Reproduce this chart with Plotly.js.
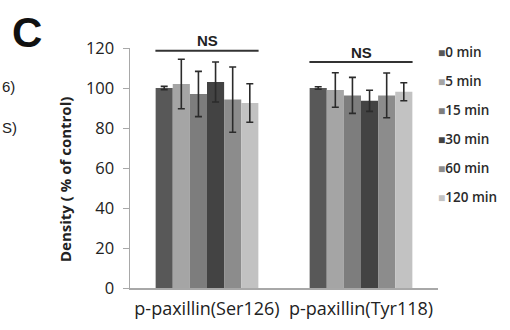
<!DOCTYPE html>
<html>
<head>
<meta charset="utf-8">
<script src="https://cdn.plot.ly/plotly-3.0.1.min.js"></script>
<style>html,body{margin:0;padding:0;background:#fff;}#chart{width:510px;height:330px;}</style>
</head>
<body>
<div id="chart"></div>
<script>
var categories = ["p-paxillin(Ser126)", "p-paxillin(Tyr118)"];
var seriesNames = ["0 min", "5 min", "15 min", "30 min", "60 min", "120 min"];
var seriesColors = ["#585858", "#a5a5a5", "#7d7d7d", "#434343", "#8c8c8c", "#c2c2c2"];
var values = [
  [100, 100],
  [102, 99],
  [97, 96.3],
  [103, 93.6],
  [94.2, 96.3],
  [92.5, 98.1]
];
var errors = [
  [0.8, 0.6],
  [12.4, 8.6],
  [11.3, 9],
  [10, 5.3],
  [16.3, 11.2],
  [9.6, 4.5]
];
var yTicks = [0, 20, 40, 60, 80, 100, 120];
var sigLabels = ["NS", "NS"];
var sigLineY = [118.6, 113];
var sigTextY = [123.6, 117.6];

var traces = seriesNames.map(function(name, i){
  return {
    type: "bar",
    name: name,
    x: categories,
    y: values[i],
    marker: {color: seriesColors[i], line: {width: 0}},
    error_y: {type: "data", array: errors[i], visible: true, color: "#2b2b2b", thickness: 1.6, width: 3.5},
    showlegend: false,
    hoverinfo: "none"
  };
});

var shapes = [];
var annotations = [];
categories.forEach(function(c, k){
  shapes.push({type: "line", xref: "x", yref: "y", x0: k - 0.335, x1: k + 0.335, y0: sigLineY[k], y1: sigLineY[k], line: {color: "#333", width: 2}});
  annotations.push({xref: "x", yref: "paper", x: k, y: sigTextY[k] / 120, yanchor: "middle", text: "<b>" + sigLabels[k] + "</b>", showarrow: false,
    font: {family: "Liberation Sans, Arial", size: 15, color: "#222"}});
});

// legend drawn as text entries
seriesNames.forEach(function(name, i){
  var py = 52 + i * 29;
  annotations.push({xref: "paper", yref: "paper", x: (436 - 130) / 308, y: (288 - py) / 240, xanchor: "left", yanchor: "middle",
    text: "<span style='color:" + seriesColors[i] + ";font-size:12px'>■</span>" + name, showarrow: false,
    font: {family: "Open Sans", size: 13.5, color: "#2a2a2a", weight: 600}});
});

// y title
annotations.push({xref: "paper", yref: "paper", x: (65 - 130) / 308, y: (288 - 180) / 240, xanchor: "center", yanchor: "middle",
  textangle: -90, text: "<b>Density ( % of control)</b>", showarrow: false,
  font: {family: "Open Sans", size: 15, color: "#222"}});
// panel letter
annotations.push({xref: "paper", yref: "paper", x: (10 - 130) / 308, y: (288 - 32) / 240, xanchor: "left", yanchor: "middle",
  text: "<b>C</b>", showarrow: false, font: {family: "Liberation Sans, Arial", size: 42, color: "#111"}});
// cropped neighbour labels
annotations.push({xref: "paper", yref: "paper", x: (0 - 130) / 308, y: (288 - 86) / 240, xanchor: "left", yanchor: "middle",
  text: "6)", showarrow: false, font: {family: "Liberation Sans, Arial", size: 15, color: "#222"}});
annotations.push({xref: "paper", yref: "paper", x: (0 - 130) / 308, y: (288 - 127) / 240, xanchor: "left", yanchor: "middle",
  text: "S)", showarrow: false, font: {family: "Liberation Sans, Arial", size: 15, color: "#222"}});

var layout = {
  width: 510, height: 330,
  margin: {l: 130, r: 72, t: 48, b: 42, pad: 0},
  paper_bgcolor: "#fff", plot_bgcolor: "#fff",
  barmode: "group", bargap: 0.333, bargroupgap: 0,
  showlegend: false,
  xaxis: {type: "category", showline: true, linecolor: "#a8a8a8", linewidth: 1.5, ticks: "", showgrid: false, zeroline: false,
    tickfont: {family: "Open Sans", size: 18, color: "#222"}, ticklabelstandoff: 4, fixedrange: true},
  yaxis: {range: [0, 120], tickvals: yTicks, showline: true, linecolor: "#a8a8a8", linewidth: 1.5, ticks: "outside", ticklen: 6,
    tickcolor: "#a8a8a8", showgrid: false, zeroline: false, tickfont: {family: "Open Sans", size: 16.5, color: "#222"}, ticklabelstandoff: 5, fixedrange: true},
  shapes: shapes,
  annotations: annotations,
  font: {family: "Open Sans"}
};

Plotly.newPlot("chart", traces, layout, {displayModeBar: false, staticPlot: true});
</script>
</body>
</html>
